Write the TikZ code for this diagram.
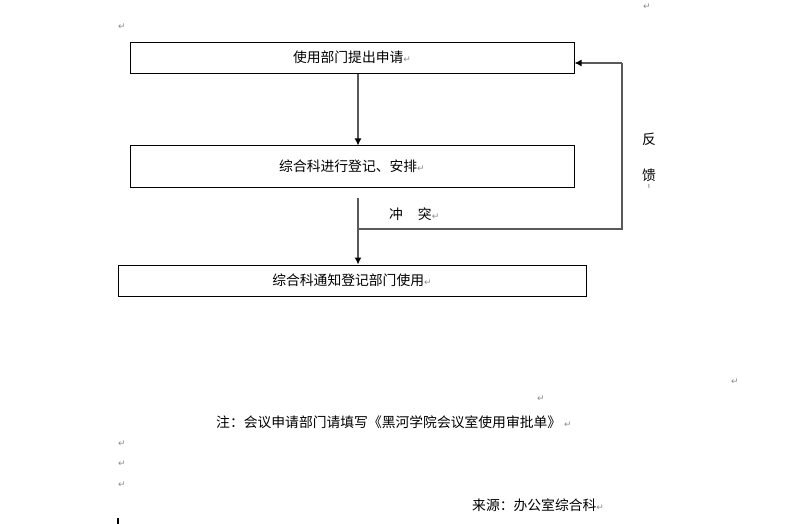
\documentclass[tikz,border=0pt]{standalone}
\usepackage{fontspec}
\setmainfont{Noto Sans CJK SC}
\newfontfamily\symfont{DejaVu Sans}
\usetikzlibrary{arrows.meta,calc}
\tikzset{
  box/.style={draw=black,line width=1pt,inner sep=0pt,font=\fontsize{13.8}{15}\selectfont},
  conn/.style={draw=black!65,line width=1.3pt,-{Latex[length=7pt,width=7pt,black]}},
  link/.style={draw=black!65,line width=1.3pt},
  lbl/.style={inner sep=0pt,font=\fontsize{13.8}{15}\selectfont},
  pmark/.style={inner sep=0pt,text=black!45,font=\symfont\fontsize{9}{10}\selectfont}
}
\newcommand{\parmk}{{\color{black!45}\symfont\fontsize{9}{10}\selectfont ↵}}
\begin{document}
\begin{tikzpicture}[x=1pt,y=-1pt]
\useasboundingbox (0,0) rectangle (790,524);
\fill[white] (0,0) rectangle (790,524);
% boxes
\node[box,minimum width=444pt,minimum height=31pt] (b1) at (352,57.75) {使用部门提出申请\parmk};
\node[box,minimum width=444pt,minimum height=41pt] (b2) at (352,166.5) {综合科进行登记、安排\parmk};
\node[box,minimum width=468pt,minimum height=31pt] (b3) at (352,280.5) {综合科通知登记部门使用\parmk};
% helper coordinates
\coordinate (ax) at (358,0);
\coordinate (s2) at (358,198);
\coordinate (br) at (358,229);
\coordinate (fbtop) at (622,63);
% connectors
\draw[conn] (b1.south -| ax) -- (b2.north -| ax);
\draw[conn] (s2) -- (b3.north -| ax);
\draw[link] (br) -| (fbtop);
\draw[conn] (fbtop) -- (b1.east |- fbtop);
% labels
\node[lbl,anchor=west] (ct) at (389,214) {冲\hspace{15pt}突\parmk};
\node[lbl] (fa) at (649,139) {反};
\node[lbl] (kui) at (649,175) {馈};
\node[pmark,font=\symfont\fontsize{6}{7}\selectfont] (kuim) at (649,186) {ŧ};
% notes
\node[lbl,anchor=west] (note) at (216,422) {注：会议申请部门请填写《黑河学院会议室使用审批单》\hspace{3pt}\parmk};
\node[lbl,anchor=west] (src) at (472,505) {来源：办公室综合科\parmk};
% paragraph marks
\node[pmark] (m1) at (122,27) {↵};
\node[pmark] (m2) at (647,7) {↵};
\node[pmark] (m3) at (541,399) {↵};
\node[pmark] (m4) at (735,382) {↵};
\node[pmark] (m5) at (122,444) {↵};
\node[pmark] (m6) at (122,464) {↵};
\node[pmark] (m7) at (122,485) {↵};
\fill[black] (117,518) rectangle (119,524);
\end{tikzpicture}
\end{document}
